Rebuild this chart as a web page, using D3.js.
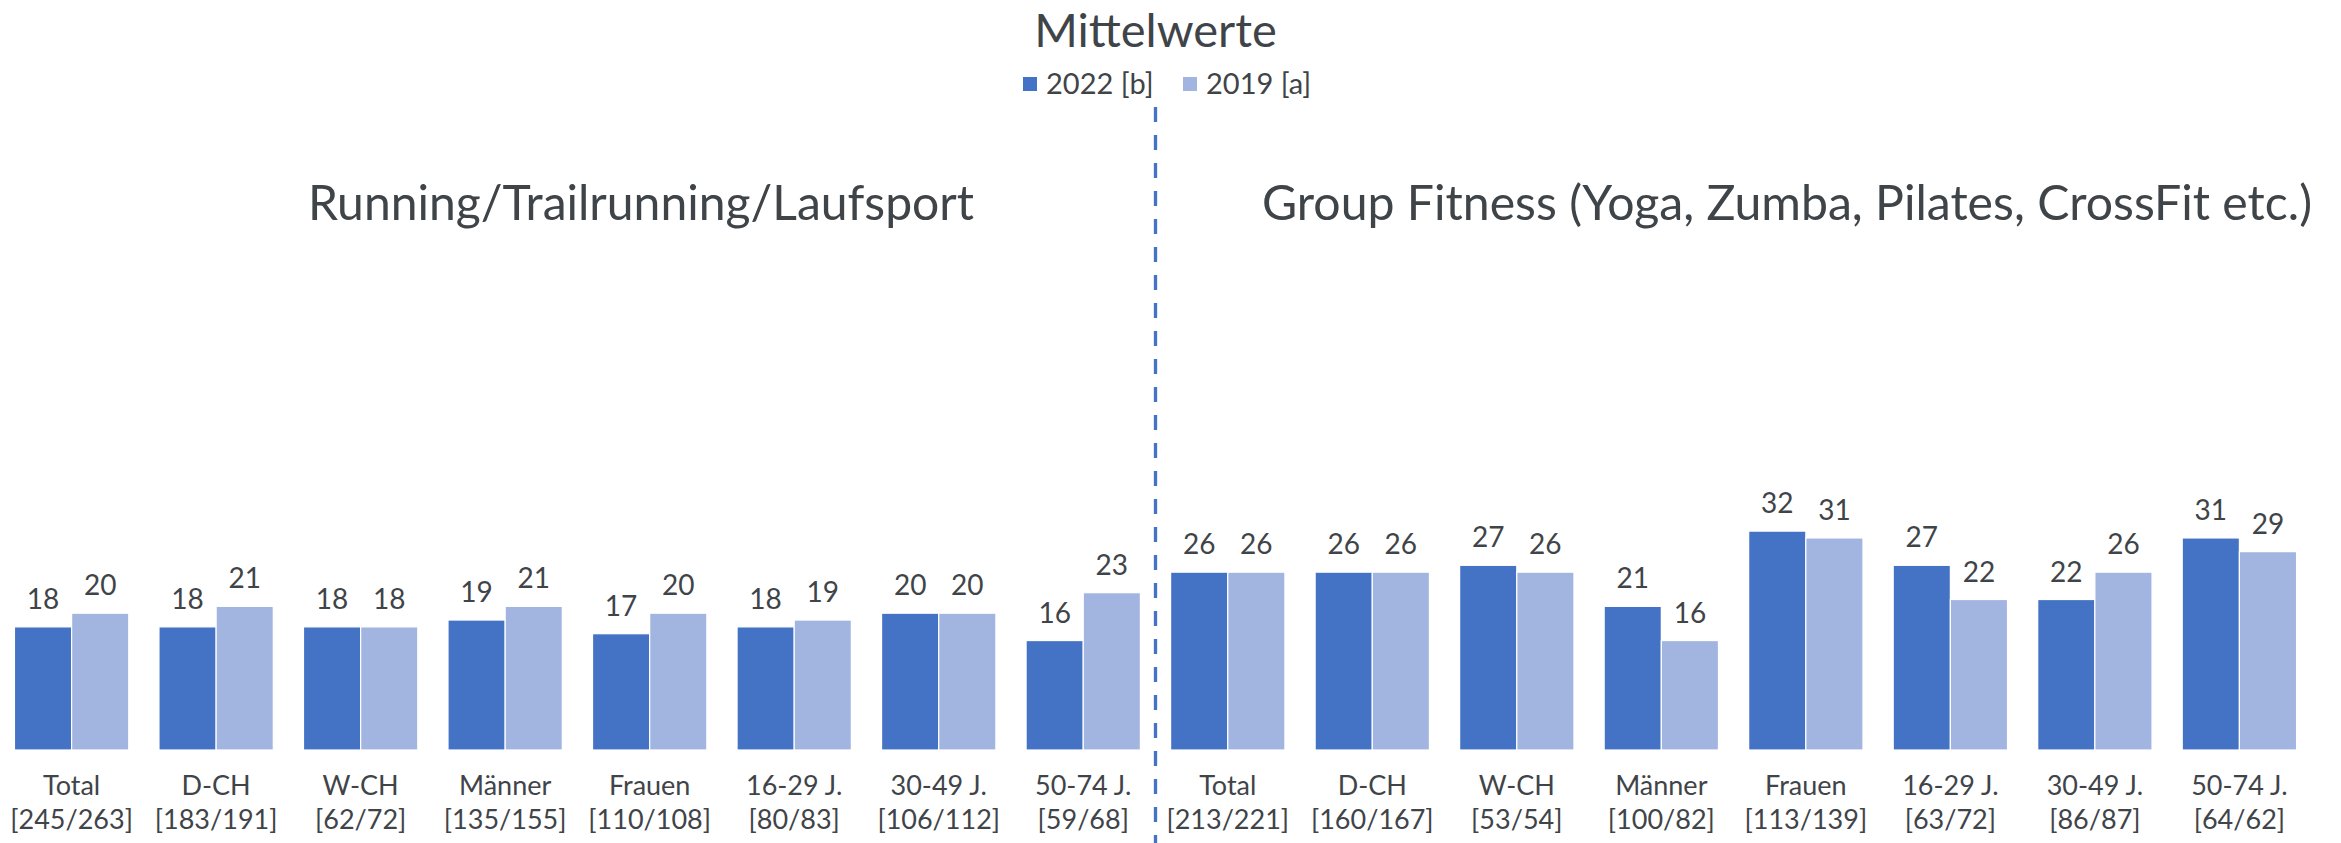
<!DOCTYPE html>
<html>
<head>
<meta charset="utf-8">
<script src="https://cdn.jsdelivr.net/npm/d3@7"></script>
<style>
  html, body { margin: 0; padding: 0; background: #ffffff; }
  svg { display: block; }
  text { font-family: Lato, "Open Sans", sans-serif; fill: #3f4449; }
</style>
</head>
<body>
<svg id="chart" width="2341" height="843"></svg>
<script>
// ---------- data ----------
const chartTitle = "Mittelwerte";
const seriesNames = ["2022 [b]", "2019 [a]"];
const sectionTitles = ["Running/Trailrunning/Laufsport", "Group Fitness (Yoga, Zumba, Pilates, CrossFit etc.)"];
const categories = ["Total", "D-CH", "W-CH", "Männer", "Frauen", "16-29 J.", "30-49 J.", "50-74 J."];
const runningN = ["[245/263]", "[183/191]", "[62/72]", "[135/155]", "[110/108]", "[80/83]", "[106/112]", "[59/68]"];
const fitnessN = ["[213/221]", "[160/167]", "[53/54]", "[100/82]", "[113/139]", "[63/72]", "[86/87]", "[64/62]"];
const running2022 = [18, 18, 18, 19, 17, 18, 20, 16];
const running2019 = [20, 21, 18, 21, 20, 19, 20, 23];
const fitness2022 = [26, 26, 27, 21, 32, 27, 22, 31];
const fitness2019 = [26, 26, 26, 16, 31, 22, 26, 29];

// ---------- build rows ----------
const rows = [];
categories.forEach((c, i) => rows.push({ id: "r" + i, cat: c, n: runningN[i], vals: [running2022[i], running2019[i]] }));
categories.forEach((c, i) => rows.push({ id: "f" + i, cat: c, n: fitnessN[i], vals: [fitness2022[i], fitness2019[i]] }));

const colors = ["#4472C4", "#A2B4E0"];
const svg = d3.select("#chart");

const baseY = 750;
const y = d3.scaleLinear().domain([0, 35]).range([baseY, baseY - 35 * 6.84]);
const x0 = d3.scaleBand().domain(rows.map(r => r.id)).range([0, 2311]).paddingInner(0.209).paddingOuter(0.1);
const x1 = d3.scaleBand().domain(d3.range(seriesNames.length)).range([0, x0.bandwidth()]).padding(0);

// bars
const g = svg.append("g");
const groups = g.selectAll("g.grp").data(rows).join("g")
  .attr("class", "grp")
  .attr("transform", d => `translate(${x0(d.id)},0)`);

groups.selectAll("rect").data(d => d.vals.map((v, i) => ({ v, i }))).join("rect")
  .attr("x", d => x1(d.i))
  .attr("y", d => y(d.v))
  .attr("width", x1.bandwidth())
  .attr("height", d => y(0) - y(d.v))
  .attr("fill", d => colors[d.i])
  .attr("stroke", "#ffffff")
  .attr("stroke-width", 1.2);

groups.selectAll("text.val").data(d => d.vals.map((v, i) => ({ v, i }))).join("text")
  .attr("class", "val")
  .attr("x", d => x1(d.i) + x1.bandwidth() / 2)
  .attr("y", d => y(d.v) - 18)
  .attr("text-anchor", "middle")
  .attr("font-size", 28)
  .text(d => d3.format("d")(Math.round(d.v)));

// category labels
groups.append("text")
  .attr("x", x0.bandwidth() / 2)
  .attr("y", 795)
  .attr("text-anchor", "middle")
  .attr("font-size", 27)
  .text(d => d.cat);
groups.append("text")
  .attr("x", x0.bandwidth() / 2)
  .attr("y", 829)
  .attr("text-anchor", "middle")
  .attr("font-size", 27)
  .text(d => d.n);

// divider
const divX = (x0("r7") + x0.bandwidth() + x0("f0")) / 2;
svg.append("line")
  .attr("x1", divX).attr("x2", divX)
  .attr("y1", 107).attr("y2", 843)
  .attr("stroke", "#4472C4")
  .attr("stroke-width", 3.3)
  .attr("stroke-dasharray", "15 13");

// title
svg.append("text")
  .attr("x", divX)
  .attr("y", 47)
  .attr("text-anchor", "middle")
  .attr("font-size", 47)
  .text(chartTitle);

// legend
const legX = [1023, 1183];
seriesNames.forEach((s, i) => {
  svg.append("rect").attr("x", legX[i]).attr("y", 77).attr("width", 14).attr("height", 14).attr("fill", colors[i]);
  svg.append("text").attr("x", legX[i] + 23).attr("y", 94).attr("font-size", 29).text(s);
});

// section titles
svg.append("text").attr("x", 308).attr("y", 220).attr("font-size", 48)
  .attr("textLength", 666).attr("lengthAdjust", "spacingAndGlyphs").text(sectionTitles[0]);
svg.append("text").attr("x", 1262).attr("y", 220).attr("font-size", 48)
  .attr("textLength", 1050).attr("lengthAdjust", "spacingAndGlyphs").text(sectionTitles[1]);
</script>
</body>
</html>
